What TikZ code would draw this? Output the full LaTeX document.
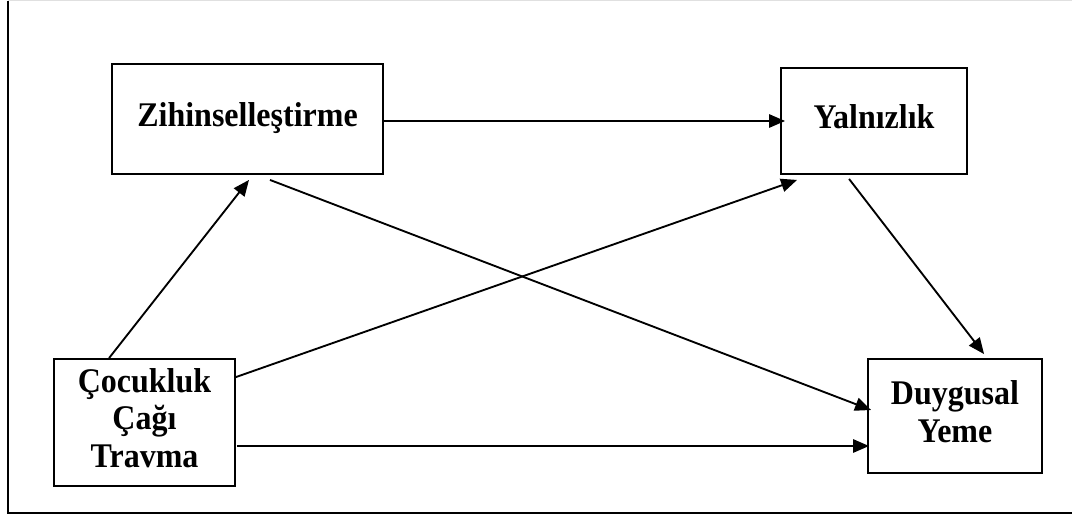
\documentclass[tikz,border=0pt]{standalone}
\usepackage{fontspec}
\setmainfont{Liberation Serif}
\usetikzlibrary{arrows.meta,calc}
\newcommand{\boxtxt}[1]{\scalebox{1}[1.08]{\begin{tabular}{@{}c@{}}#1\end{tabular}}}
\tikzset{
  boxnode/.style={draw=black, line width=1.4pt, inner sep=0pt, align=center,
    font=\fontsize{24}{26}\selectfont\bfseries},
  arr/.style={line width=1.4pt, -{Triangle[length=12pt,width=10pt]}}
}
\begin{document}
\begin{tikzpicture}[x=0.75pt,y=-0.75pt]
\useasboundingbox (0,0) rectangle (1072,518);
% outer frame
\draw[line width=1pt] (8,0.8) -- (8,513) -- (1072,513);
\draw[line width=0.9pt, black!12] (8,0.8) -- (1072,0.8);
% boxes
\node[boxnode, minimum width=203.25pt, minimum height=82.5pt] (zih) at (247.5,119) {\boxtxt{Zihinselleştirme}};
\node[boxnode, minimum width=139.5pt, minimum height=79.5pt] (yal) at (874,121) {\boxtxt{Yalnızlık}};
\node[boxnode, minimum width=130.5pt, minimum height=85.5pt] (duy) at (955,416) {\boxtxt{Duygusal\\Yeme}};
\node[boxnode, minimum width=135.75pt, minimum height=95.25pt] (coc) at (144.5,422.5) {\boxtxt{Çocukluk\\Çağı\\Travma}};
% connectors
\draw[arr] ($(coc.north west)+(56,0)$) -- ($(zih.south)+(1.5,5)$);
\draw[arr] ($(zih.east)+(0,2)$) -- ($(yal.west)+(5,0)$);
\draw[arr] ($(zih.south)+(22.5,5)$) -- ($(duy.west)+(4,-6)$);
\draw[arr] ($(coc.north east)+(0,19)$) -- ($(yal.south west)+(17,5)$);
\draw[arr] ($(coc.east)+(1,23.5)$) -- ($(duy.west)+(2,30)$);
\draw[arr] ($(yal.south west)+(69,4)$) -- ($(duy.north west)+(117,-4)$);
\end{tikzpicture}
\end{document}
